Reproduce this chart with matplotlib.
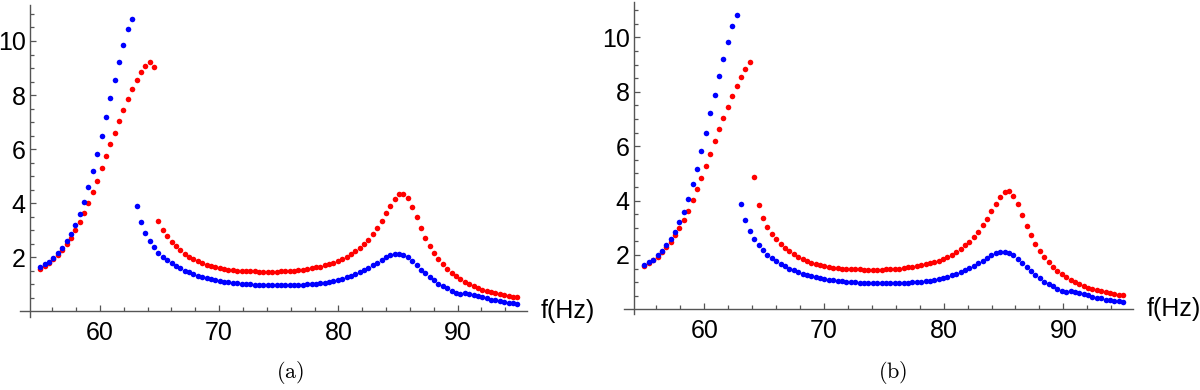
import numpy as np
import matplotlib
matplotlib.use("Agg")
import matplotlib.pyplot as plt
from matplotlib.ticker import FixedLocator

plt.rcParams['font.family'] = ['Liberation Sans', 'DejaVu Sans']
plt.rcParams['mathtext.fontset'] = 'cm'

# sampled frequencies (Hz), 110 points from 55 to 95
freq = np.linspace(55, 95, 110)

blue = [1.63, 1.73, 1.83, 1.98, 2.14, 2.35, 2.58, 2.86, 3.20, 3.59, 4.05,
        4.59, 5.17, 5.81, 6.49, 7.20, 7.88, 8.56, 9.21, 9.84, 10.43, 10.81,
        3.89, 3.30, 2.89, 2.59, 2.36, 2.17, 2.01, 1.88, 1.77, 1.67,
        1.58, 1.50, 1.43, 1.37, 1.31, 1.26, 1.22, 1.18, 1.15, 1.12,
        1.09, 1.07, 1.05, 1.03, 1.01, 1.00, 0.99, 0.98, 0.97, 0.96,
        0.96, 0.95, 0.95, 0.95, 0.95, 0.96, 0.96, 0.97, 0.98, 0.99,
        1.00, 1.01, 1.03, 1.05, 1.08, 1.11,
        1.15, 1.20, 1.25, 1.30, 1.36, 1.43, 1.51, 1.59, 1.69, 1.79, 1.89, 1.99,
        2.06, 2.11, 2.11, 2.06, 1.99, 1.86, 1.69, 1.54, 1.40, 1.26,
        1.14, 1.02, 0.93, 0.84, 0.75, 0.67, 0.62, 0.66, 0.65, 0.59,
        0.56, 0.51, 0.47, 0.43, 0.40, 0.36, 0.33, 0.31, 0.30, 0.27]

red_a = [1.57, 1.68, 1.79, 1.93, 2.09, 2.26, 2.47, 2.72, 3.00, 3.30, 3.64,
         4.01, 4.41, 4.83, 5.28, 5.73, 6.17, 6.60,
         7.04, 7.44, 7.84, 8.21, 8.54, 8.84, 9.09, 9.24, 9.04,
         3.34, 3.02, 2.78, 2.57, 2.40, 2.26, 2.13, 2.02, 1.93, 1.85,
         1.78, 1.72, 1.66, 1.62, 1.58, 1.55, 1.53, 1.51, 1.50, 1.49,
         1.48, 1.47, 1.47, 1.46, 1.46, 1.46, 1.46, 1.46, 1.47, 1.48,
         1.49, 1.50, 1.52, 1.54, 1.56, 1.59, 1.62, 1.65, 1.69, 1.74, 1.79,
         1.85, 1.93, 2.01, 2.11, 2.22, 2.35, 2.48, 2.65, 2.85, 3.09,
         3.33, 3.62, 3.89, 4.14, 4.32, 4.35, 4.17, 3.86, 3.47, 3.07,
         2.72, 2.41, 2.15, 1.93, 1.73, 1.57, 1.42, 1.30, 1.19, 1.09,
         1.01, 0.94, 0.86, 0.80, 0.75, 0.70, 0.67, 0.63, 0.59, 0.57, 0.54, 0.51]

red_b = [1.58, 1.69, 1.80, 1.93, 2.09, 2.28, 2.49, 2.72, 2.99, 3.30, 3.63,
         4.01, 4.41, 4.84, 5.28, 5.72, 6.17, 6.62,
         7.03, 7.44, 7.83, 8.20, 8.53, 8.82, 9.08, 4.85, 3.82,
         3.34, 3.02, 2.78, 2.57, 2.40, 2.26, 2.13, 2.02, 1.93, 1.85,
         1.78, 1.72, 1.66, 1.62, 1.58, 1.55, 1.53, 1.51, 1.50, 1.49,
         1.48, 1.47, 1.47, 1.46, 1.46, 1.46, 1.46, 1.46, 1.47, 1.48,
         1.49, 1.50, 1.52, 1.54, 1.56, 1.59, 1.62, 1.65, 1.69, 1.74, 1.79,
         1.85, 1.93, 2.01, 2.11, 2.22, 2.35, 2.48, 2.65, 2.85, 3.09,
         3.33, 3.62, 3.89, 4.14, 4.32, 4.35, 4.17, 3.86, 3.47, 3.07,
         2.72, 2.41, 2.15, 1.93, 1.73, 1.57, 1.42, 1.30, 1.19, 1.09,
         1.01, 0.94, 0.86, 0.80, 0.75, 0.70, 0.67, 0.63, 0.59, 0.57, 0.54, 0.51]

x_major = [60, 70, 80, 90]
x_minor = [56, 58, 62, 64, 66, 68, 72, 74, 76, 78, 82, 84, 86, 88, 92, 94]
y_major = [2, 4, 6, 8, 10]
y_minor = [v / 2 for v in range(1, 23) if v % 4 != 0]

axis_grey = '#555555'


def panel(ax, red, caption, xpos, ylim):
    ax.plot(freq, red, 'o', color=(1, 0, 0), ms=4.0, mew=0)
    ax.plot(freq, blue, 'o', color=(0, 0, 1), ms=4.0, mew=0)
    ax.set_xlim(53.3, 95.82)
    ax.set_ylim(*ylim)
    for s in ['top', 'right']:
        ax.spines[s].set_visible(False)
    ax.spines['left'].set_position(('data', 54.12))
    ax.spines['bottom'].set_position(('data', 0))
    for s in ['left', 'bottom']:
        ax.spines[s].set_color(axis_grey)
        ax.spines[s].set_linewidth(1.0)
    ax.xaxis.set_major_locator(FixedLocator(x_major))
    ax.xaxis.set_minor_locator(FixedLocator(x_minor))
    ax.yaxis.set_major_locator(FixedLocator(y_major))
    ax.yaxis.set_minor_locator(FixedLocator(y_minor))
    ax.tick_params(which='both', direction='in', color=axis_grey,
                   labelsize=18, width=0.9)
    ax.tick_params(which='major', length=4.5)
    ax.tick_params(which='minor', length=3)
    ax.tick_params(axis='x', which='major', pad=7)
    ax.tick_params(axis='y', which='major', pad=3)
    ax.annotate('f(Hz)', xy=(1, 0), xycoords=('axes fraction', 'data'),
                xytext=(10, 0), textcoords='offset points',
                ha='left', va='center', fontsize=18)
    fig.text(xpos, 0.045, caption, ha='center', va='center', fontsize=16)


fig = plt.figure(figsize=(12, 3.9), dpi=100)
ax1 = fig.add_axes([0.0167, 0.187, 0.4225, 0.8])
ax2 = fig.add_axes([0.52, 0.195, 0.4242, 0.8])

panel(ax1, red_a, r'$\mathrm{(a)}$', 0.242, (-0.22, 11.33))
panel(ax2, red_b, r'$\mathrm{(b)}$', 0.744, (-0.17, 11.3))

fig.savefig('out.png', dpi=100)
